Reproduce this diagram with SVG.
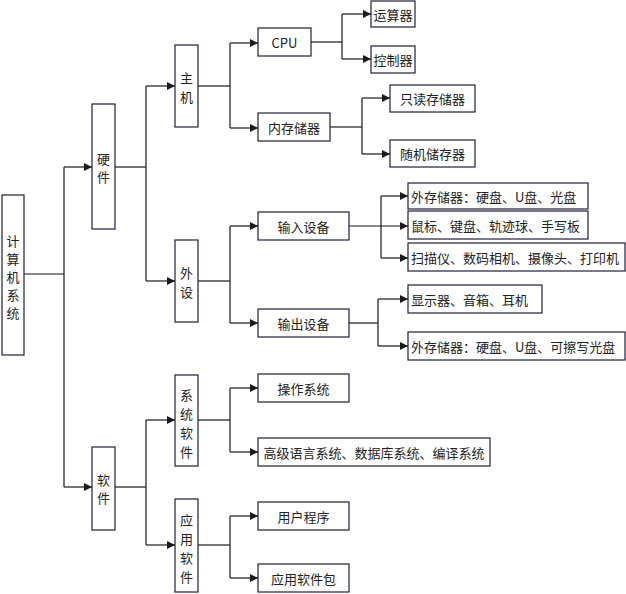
<svg xmlns="http://www.w3.org/2000/svg" width="626" height="594" viewBox="0 0 626 594">
<style>
rect{fill:#fff;stroke:#1f1f3a;stroke-width:1.2}
text{font-family:"Noto Sans CJK SC","Liberation Sans",sans-serif;font-size:13px;fill:#222;dominant-baseline:central}
.c{text-anchor:middle}
#conn path{fill:none;stroke:#1a1a1a;stroke-width:1.2}
</style>
<defs><marker id="a" viewBox="0 0 10 10" refX="10" refY="5" markerWidth="8" markerHeight="8" orient="auto" markerUnits="userSpaceOnUse"><path d="M0,0L10,5L0,10z" fill="#1a1a1a"/></marker></defs>
<rect width="626" height="594" style="fill:#fff;stroke:none"/>
<g id="conn">
<path d="M24,274H64"/><path d="M64,167V487"/><path d="M64,167H92" marker-end="url(#a)"/><path d="M64,487H92" marker-end="url(#a)"/>
<path d="M115,167H146"/><path d="M146,86V281"/><path d="M146,86H175" marker-end="url(#a)"/><path d="M146,281H175" marker-end="url(#a)"/>
<path d="M198,86H230"/><path d="M230,43V128"/><path d="M230,43H258" marker-end="url(#a)"/><path d="M230,128H258" marker-end="url(#a)"/>
<path d="M311,42H342"/><path d="M342,14V59"/><path d="M342,14H371" marker-end="url(#a)"/><path d="M342,59H371" marker-end="url(#a)"/>
<path d="M330,127H362"/><path d="M362,98V154"/><path d="M362,98H390" marker-end="url(#a)"/><path d="M362,154H390" marker-end="url(#a)"/>
<path d="M198,281H230"/><path d="M230,226V323"/><path d="M230,226H258" marker-end="url(#a)"/><path d="M230,323H258" marker-end="url(#a)"/>
<path d="M349,226H408" marker-end="url(#a)"/><path d="M381,196V258"/><path d="M381,196H408" marker-end="url(#a)"/><path d="M381,258H408" marker-end="url(#a)"/>
<path d="M349,323H378"/><path d="M378,299V346"/><path d="M378,299H408" marker-end="url(#a)"/><path d="M378,346H408" marker-end="url(#a)"/>
<path d="M115,487H146"/><path d="M146,420V545"/><path d="M146,420H175" marker-end="url(#a)"/><path d="M146,545H175" marker-end="url(#a)"/>
<path d="M198,420H230"/><path d="M230,388V452"/><path d="M230,388H258" marker-end="url(#a)"/><path d="M230,452H258" marker-end="url(#a)"/>
<path d="M198,545H230"/><path d="M230,516V578"/><path d="M230,516H258" marker-end="url(#a)"/><path d="M230,578H258" marker-end="url(#a)"/>
</g>
<g id="root"><rect x="2" y="195" width="22" height="160"/><text class="c" x="13" y="240">计</text><text class="c" x="13" y="258">算</text><text class="c" x="13" y="276">机</text><text class="c" x="13" y="294">系</text><text class="c" x="13" y="312">统</text></g>
<g id="hw"><rect x="92" y="104" width="23" height="125"/><text class="c" x="103.5" y="158">硬</text><text class="c" x="103.5" y="176">件</text></g>
<g id="sw"><rect x="92" y="447" width="23" height="83"/><text class="c" x="103.5" y="479">软</text><text class="c" x="103.5" y="497">件</text></g>
<g id="host"><rect x="175" y="45" width="23" height="82"/><text class="c" x="186.5" y="77">主</text><text class="c" x="186.5" y="96">机</text></g>
<g id="peri"><rect x="175" y="240" width="23" height="82"/><text class="c" x="186.5" y="272">外</text><text class="c" x="186.5" y="291">设</text></g>
<g id="syssw"><rect x="175" y="375" width="23" height="91"/><text class="c" x="186.5" y="394">系</text><text class="c" x="186.5" y="413">统</text><text class="c" x="186.5" y="432">软</text><text class="c" x="186.5" y="451">件</text></g>
<g id="appsw"><rect x="175" y="499" width="23" height="93"/><text class="c" x="186.5" y="519">应</text><text class="c" x="186.5" y="538">用</text><text class="c" x="186.5" y="557">软</text><text class="c" x="186.5" y="576">件</text></g>
<g id="cpu"><rect x="258" y="28" width="53" height="28"/><text class="c" x="284.5" y="42">CPU</text></g>
<g id="mem"><rect x="258" y="113" width="72" height="28"/><text class="c" x="294" y="127">内存储器</text></g>
<g id="alu"><rect x="371" y="1" width="44" height="26"/><text class="c" x="393" y="14">运算器</text></g>
<g id="ctl"><rect x="371" y="46" width="44" height="27"/><text class="c" x="393" y="59.5">控制器</text></g>
<g id="rom"><rect x="390" y="85" width="85" height="27"/><text class="c" x="432.5" y="98.5">只读存储器</text></g>
<g id="ram"><rect x="390" y="140" width="85" height="27"/><text class="c" x="432.5" y="153.5">随机储存器</text></g>
<g id="in"><rect x="258" y="212" width="91" height="28"/><text class="c" x="303.5" y="226">输入设备</text></g>
<g id="out"><rect x="258" y="309" width="91" height="28"/><text class="c" x="303.5" y="323">输出设备</text></g>
<g id="in1"><rect x="408" y="183" width="180" height="26"/><text x="411" y="196">外存储器：硬盘、U盘、光盘</text></g>
<g id="in2"><rect x="408" y="211" width="180" height="28"/><text x="411" y="225">鼠标、键盘、轨迹球、手写板</text></g>
<g id="in3"><rect x="408" y="243" width="217" height="28"/><text x="411" y="257">扫描仪、数码相机、摄像头、打印机</text></g>
<g id="out1"><rect x="408" y="285" width="134" height="28"/><text x="411" y="299">显示器、音箱、耳机</text></g>
<g id="out2"><rect x="408" y="332" width="217" height="28"/><text x="411" y="346">外存储器：硬盘、U盘、可擦写光盘</text></g>
<g id="os"><rect x="258" y="374" width="91" height="28"/><text class="c" x="303.5" y="388">操作系统</text></g>
<g id="lang"><rect x="258" y="438" width="232" height="28"/><text class="c" x="374" y="452">高级语言系统、数据库系统、编译系统</text></g>
<g id="user"><rect x="258" y="502" width="91" height="28"/><text class="c" x="303.5" y="516">用户程序</text></g>
<g id="pkg"><rect x="258" y="564" width="91" height="28"/><text class="c" x="303.5" y="578">应用软件包</text></g>
</svg>
